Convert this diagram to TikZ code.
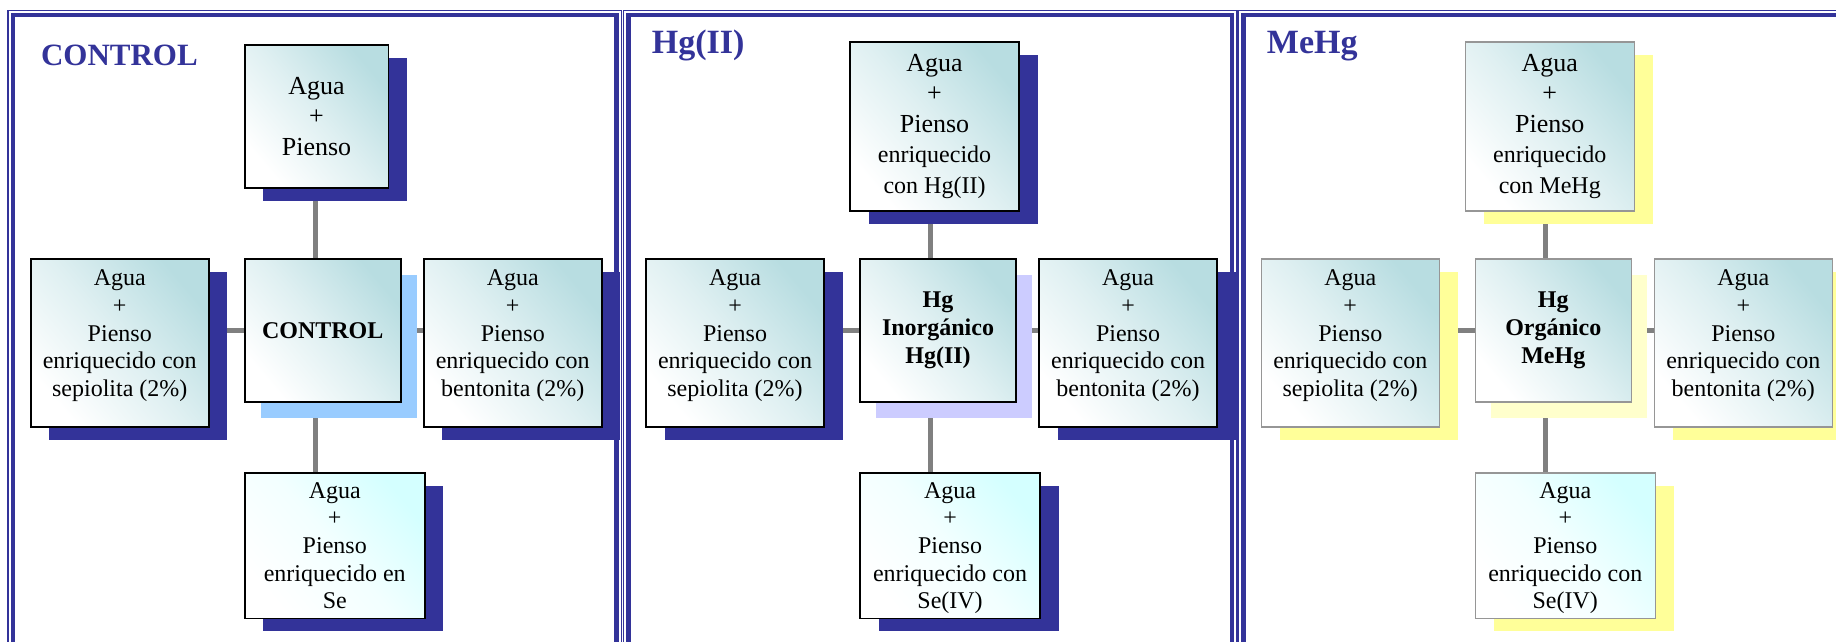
\documentclass[tikz,border=0pt]{standalone}
\usepackage{fontspec}
\setmainfont{Liberation Serif}
\usetikzlibrary{shadows,backgrounds}

\definecolor{azulmarino}{RGB}{51,51,153}
\definecolor{turquesa}{RGB}{184,221,225}
\definecolor{celeste}{RGB}{212,255,255}
\definecolor{azulclaro}{RGB}{153,204,255}
\definecolor{lila}{RGB}{204,204,255}
\definecolor{amarillo}{RGB}{255,255,153}
\definecolor{amarilloclaro}{RGB}{255,255,204}
\definecolor{gris}{RGB}{128,128,128}
\definecolor{grisborde}{RGB}{150,150,150}

\newcommand{\chico}[1]{{\fontsize{24}{28}\selectfont #1}}

\tikzset{
  caja/.style={draw=black, line width=1.5pt, top color=turquesa, bottom color=white,
    middle color=turquesa!45!white, shading angle=-50, align=center,
    anchor=north west, inner sep=0pt, font=\fontsize{24}{27.7}\selectfont},
  cajabaja/.style={caja, top color=celeste, bottom color=white,
    middle color=celeste!30!white, shading angle=-50},
  sombra/.style={drop shadow={shadow xshift=18.5pt, shadow yshift=-13pt, fill=#1, opacity=1}},
  sombracentro/.style={drop shadow={shadow xshift=16pt, shadow yshift=-16pt, fill=#1, opacity=1}},
  lateral/.style={caja, minimum width=178pt, minimum height=168pt, text depth=19pt},
  central/.style={caja, minimum width=156pt, minimum height=143pt,
    font=\fontsize{24}{28}\selectfont\bfseries},
  inferior/.style={cajabaja, minimum width=180pt, minimum height=145.5pt, text depth=-4pt},
  superior/.style={caja, minimum width=169pt, minimum height=169pt,
    font=\fontsize{26}{30.5}\selectfont},
  conector/.style={draw=gris, line width=5pt},
  marcofino/.style={draw=azulmarino, line width=1.5pt},
  marcogrueso/.style={draw=azulmarino, line width=4.5pt},
  titulo/.style={text=azulmarino, anchor=base west, inner sep=0pt,
    font=\fontsize{34}{40}\selectfont\bfseries},
}

\begin{document}
\begin{tikzpicture}[x=1pt, y=-1pt]
    \useasboundingbox (0,0) rectangle (1836,641);
    \clip (0,0) rectangle (1836,641);

    % Grupo CONTROL
    \node[titulo, font=\fontsize{31}{36}\selectfont\bfseries] (ctlTitulo) at (40.8,65.7) {CONTROL};
    \coordinate (ctlEje) at (315.5,329.3);
    \node[caja, sombra=azulmarino, minimum width=143.5pt, minimum height=143pt,
      font=\fontsize{26}{30.5}\selectfont] (ctlTop) at (244,44) {Agua\\+\\Pienso};
    \node[lateral, sombra=azulmarino] (ctlLeft) at (30,258) {Agua\\+\\Pienso\\enriquecido con\\sepiolita (2\%)};
    \node[central, sombracentro=azulclaro] (ctlMid) at (244,258) {CONTROL};
    \node[lateral, sombra=azulmarino] (ctlRight) at (423,258) {Agua\\+\\Pienso\\enriquecido con\\bentonita (2\%)};
    \node[inferior, sombra=azulmarino] (ctlBot) at (244,472) {Agua\\+\\Pienso\\enriquecido en\\Se};
    \begin{pgfonlayer}{background}
        \draw[conector] (ctlTop.south -| ctlEje) -- (ctlBot.north -| ctlEje);
        \draw[conector] (ctlLeft.east |- ctlMid) -- (ctlRight.west |- ctlMid);
    \end{pgfonlayer}
    \draw[marcofino] (8,10.5) rectangle (621.5,700);
    \draw[marcogrueso] (13,15) rectangle (616.5,700);

    % Grupo Hg(II)
    \begin{scope}[shift={(615.3,0)}]
        \node[titulo] (hgTitulo) at (36.3,53) {Hg(II)};
        \coordinate (hgEje) at (315.2,329.3);
        \node[superior, sombra=azulmarino] (hgTop) at (234,41) {Agua\\+\\Pienso\\\chico{enriquecido}\\\chico{con Hg(II)}};
        \node[lateral, sombra=azulmarino] (hgLeft) at (30,258) {Agua\\+\\Pienso\\enriquecido con\\sepiolita (2\%)};
        \node[central, sombracentro=lila] (hgMid) at (244,258) {Hg\\Inorgánico\\Hg(II)};
        \node[lateral, sombra=azulmarino] (hgRight) at (423,258) {Agua\\+\\Pienso\\enriquecido con\\bentonita (2\%)};
        \node[inferior, sombra=azulmarino] (hgBot) at (244,472) {Agua\\+\\Pienso\\enriquecido con\\Se(IV)};
        \begin{pgfonlayer}{background}
            \draw[conector] (hgTop.south -| hgEje) -- (hgBot.north -| hgEje);
            \draw[conector] (hgLeft.east |- hgMid) -- (hgRight.west |- hgMid);
        \end{pgfonlayer}
        \draw[marcofino] (8,10.5) rectangle (621.5,700);
        \draw[marcogrueso] (13,15) rectangle (616.5,700);
    \end{scope}

    % Grupo MeHg
    \begin{scope}[shift={(1230.5,0)}]
        \node[titulo] (mehgTitulo) at (36.2,53) {MeHg};
        \coordinate (mehgEje) at (315.2,329.3);
        \node[superior, draw=grisborde, sombra=amarillo] (mehgTop) at (234,41) {Agua\\+\\Pienso\\\chico{enriquecido}\\\chico{con MeHg}};
        \node[lateral, draw=grisborde, sombra=amarillo] (mehgLeft) at (30,258) {Agua\\+\\Pienso\\enriquecido con\\sepiolita (2\%)};
        \node[central, draw=grisborde, sombracentro=amarilloclaro] (mehgMid) at (244,258) {Hg\\Orgánico\\MeHg};
        \node[lateral, draw=grisborde, sombra=amarillo] (mehgRight) at (423,258) {Agua\\+\\Pienso\\enriquecido con\\bentonita (2\%)};
        \node[inferior, draw=grisborde, sombra=amarillo] (mehgBot) at (244,472) {Agua\\+\\Pienso\\enriquecido con\\Se(IV)};
        \begin{pgfonlayer}{background}
            \draw[conector] (mehgTop.south -| mehgEje) -- (mehgBot.north -| mehgEje);
            \draw[conector] (mehgLeft.east |- mehgMid) -- (mehgRight.west |- mehgMid);
        \end{pgfonlayer}
        \draw[marcofino] (8,10.5) rectangle (621.5,700);
        \draw[marcogrueso] (13,15) rectangle (616.5,700);
    \end{scope}
\end{tikzpicture}
\end{document}
